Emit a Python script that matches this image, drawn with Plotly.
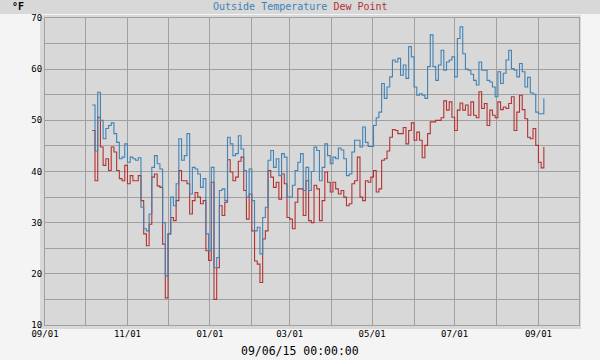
import plotly.graph_objects as go
import pandas as pd

# Data: sampled every 2 days starting 2014-10-06
start_date = "2014-10-06"
step_days = 2
outside_temp = [
    53, 44, 55.5, 50, 46.4, 48.4, 49, 49.5, 47.4, 45.7,
    42.5, 42.8, 45.4, 41.8, 42.8, 42.5, 42.2, 42.7, 33, 28.8,
    28.4, 31.7, 40.8, 43.1, 41.5, 40.5, 30, 19.6, 27.8, 35,
    33.3, 37.6, 46.4, 42.2, 43.1, 47.4, 35.6, 40.8, 40.5, 39.5,
    36.9, 38.6, 27.8, 24.5, 40.8, 21.2, 23.2, 36.3, 36.6, 34.3,
    46.7, 45.4, 43.1, 43.5, 47, 44.4, 40.2, 35, 40.5, 34.3,
    28.4, 29.1, 23.9, 31, 33, 42.2, 44.1, 40.8, 42.5, 39.2,
    43.5, 42.8, 35, 35, 37.3, 40.2, 41.8, 43.5, 36.3, 40.8,
    36.3, 40, 44.8, 44.1, 38.2, 40.8, 45.4, 43.1, 41.5, 42.8,
    42.5, 44.6, 44.2, 42.5, 39.2, 39.5, 43.8, 46.1, 46.1, 44.8,
    48.7, 45.7, 44.9, 44.9, 49, 50.5, 51.6, 57.2, 54.3, 56.5,
    58.5, 61.8, 61.4, 62.1, 58.8, 60.8, 58.2, 64.4, 62.4, 56.5,
    54.9, 55.2, 54.9, 54.3, 60.5, 66.7, 60.5, 57.8, 60.8, 63.7,
    59.8, 61.4, 61.8, 62.4, 58.5, 66, 68.3, 63, 60, 59.8,
    59, 57.8, 56.9, 61.4, 59.8, 59.8, 57.8, 57.5, 56.5, 54.6,
    59.5, 57.2, 59.2, 61.8, 63.7, 60.1, 59.8, 58.5, 61.1, 59.5,
    56.5, 58.4, 55.4, 55.1, 51.6, 51.3, 51.3, 54.3,
]
dew_point = [
    48, 38.2, 50.6, 44.8, 41.2, 42.5, 40.2, 44.8, 43.8, 40.2,
    38.6, 38.2, 41.2, 37.6, 39.2, 38.2, 38.2, 39.2, 34.3, 27.8,
    25.5, 29.7, 38.9, 39.5, 37.2, 36.9, 25.8, 15.3, 27.8, 31,
    30.4, 34.3, 40.2, 38.2, 38.2, 37.6, 31.7, 34.3, 35.9, 35,
    33.7, 34.3, 24.5, 22.6, 37.9, 15, 21.2, 33.3, 31.4, 34,
    42.3, 39.9, 38.2, 38.9, 42, 42.8, 36.3, 30.7, 35.6, 28.4,
    22.5, 21.9, 18.3, 26.8, 28.4, 40.2, 38.9, 36.9, 37.9, 34.6,
    39.5, 37.6, 31, 30.7, 28.8, 34, 36.6, 36.6, 31.4, 38.2,
    30.4, 30, 37.3, 36.6, 30.4, 34.3, 39.9, 37.9, 36, 37.9,
    36.6, 35.6, 36.3, 35, 33.3, 33.7, 37.6, 38.2, 42.8, 35,
    34.3, 38.2, 37.9, 38.9, 40.2, 36, 36.6, 42.2, 42.5, 44,
    46.7, 48.2, 48, 47.4, 47.4, 48.6, 45.4, 48, 49.5, 46.1,
    47.7, 46.1, 42.7, 45.1, 47.4, 49.7, 49.7, 50, 50, 50.5,
    53.8, 52, 53.6, 50.6, 48, 52, 53.4, 52, 53, 51,
    53.6, 51, 50.5, 55.6, 52.3, 53.3, 49, 52, 51, 50.5,
    53.6, 52.1, 52.6, 52.3, 53.3, 54.6, 48, 51.6, 54.9, 52.1,
    50.3, 46.7, 46.4, 48.4, 45.1, 41.8, 40.7, 44.8,
]
x_tick_dates = ["2014-09-01", "2014-10-01", "2014-11-01", "2014-12-01", "2015-01-01",
                "2015-02-01", "2015-03-01", "2015-04-01", "2015-05-01", "2015-06-01",
                "2015-07-01", "2015-08-01", "2015-09-01"]
x_tick_labels = ["09/01", "", "11/01", "", "01/01", "", "03/01", "", "05/01", "",
                 "07/01", "", "09/01"]
y_tick_vals = [10, 15, 20, 25, 30, 35, 40, 45, 50, 55, 60, 65, 70]
y_tick_labels = ["10", "", "20", "", "30", "", "40", "", "50", "", "60", "", "70"]
x_range = ["2014-09-01", "2015-10-01"]
y_range = [10, 70]
timestamp_label = "09/06/15 00:00:00"

dates = pd.date_range(start_date, periods=len(outside_temp), freq=f"{step_days}D")

BLUE = "#4282b4"
RED = "#b43232"
GRID = "#a0a0a0"
MONO = "DejaVu Sans Mono"

fig = go.Figure()
fig.add_trace(go.Scatter(x=dates, y=dew_point, mode="lines", line_shape="hv",
                         line=dict(color=RED, width=1.1), name="Dew Point"))
fig.add_trace(go.Scatter(x=dates, y=outside_temp, mode="lines", line_shape="hv",
                         line=dict(color=BLUE, width=1.1), name="Outside Temperature"))

W, H = 600, 360
ML, MR, MT, MB = 45, 21, 18, 35
PW, PH = W - ML - MR, H - MT - MB

def px(x):
    return (x - ML) / PW

def py(y):
    return (H - MB - y) / PH

fig.update_layout(
    width=W, height=H,
    margin=dict(l=ML, r=MR, t=MT, b=MB),
    paper_bgcolor="#f4f4f4",
    plot_bgcolor="#d8d8d8",
    showlegend=False,
    hovermode=False,
    shapes=[
        dict(type="rect", xref="paper", yref="paper", x0=px(0), x1=px(600), y0=py(0), y1=py(14),
             fillcolor="#d8d8d8", line=dict(width=0), layer="below"),
        dict(type="rect", xref="paper", yref="paper", x0=px(40), x1=px(581), y0=py(15), y1=py(329),
             fillcolor="#d8d8d8", line=dict(width=0), layer="below"),
    ],
    annotations=[
        dict(xref="paper", yref="paper", x=px(300), y=py(7), xanchor="center", yanchor="middle",
             showarrow=False,
             text=f"<span style='color:{BLUE}'>Outside Temperature</span> <span style='color:{RED}'>Dew Point</span>",
             font=dict(family=MONO, size=10)),
        dict(xref="paper", yref="paper", x=px(10), y=py(7), xanchor="left", yanchor="middle",
             showarrow=False, text="<b>°F</b>", font=dict(family=MONO, size=10, color="#000")),
        dict(xref="paper", yref="paper", x=px(300), y=py(351), xanchor="center", yanchor="middle",
             showarrow=False, text=timestamp_label, font=dict(family=MONO, size=11.5, color="#000")),
    ],
)
fig.update_xaxes(
    type="date", range=x_range, tickmode="array", tickvals=x_tick_dates, ticktext=x_tick_labels,
    showgrid=True, gridcolor=GRID, gridwidth=1, showline=True, linecolor=GRID, linewidth=1,
    mirror=True, ticks="", zeroline=False,
    tickfont=dict(family=MONO, size=9, color="#000"),
)
fig.update_yaxes(
    range=y_range, tickmode="array", tickvals=y_tick_vals, ticktext=y_tick_labels,
    showgrid=True, gridcolor=GRID, gridwidth=1, showline=True, linecolor=GRID, linewidth=1,
    mirror=True, ticks="", zeroline=False,
    tickfont=dict(family=MONO, size=9, color="#000"),
)

fig.write_html("out.html", config={"displayModeBar": False},
               post_script="document.body.style.margin='0px';")
